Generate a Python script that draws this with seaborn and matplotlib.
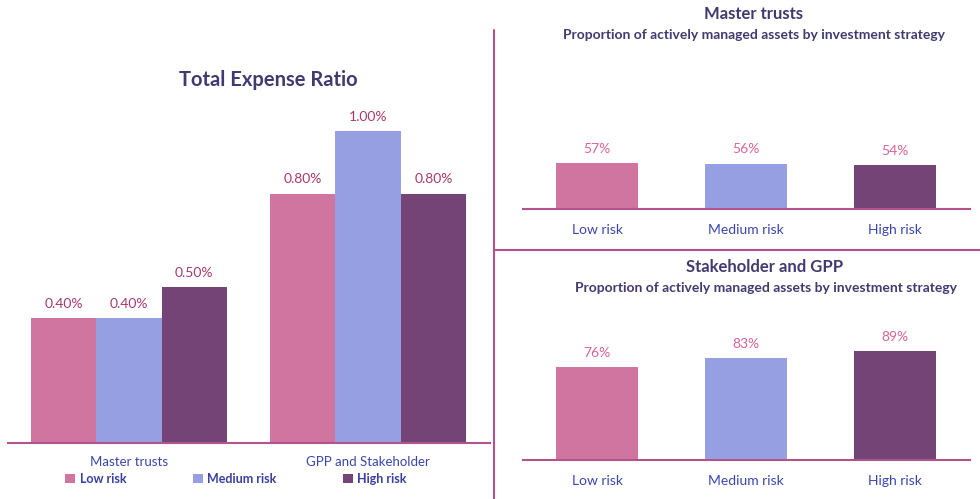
import matplotlib
matplotlib.use("Agg")
import matplotlib.pyplot as plt
from matplotlib.patches import Patch
from matplotlib.lines import Line2D
import seaborn as sns
import pandas as pd

sns.set_theme(style="white")
plt.rcParams['font.family'] = ['Lato', 'DejaVu Sans']

# ---- data ----
risk_levels = ["Low risk", "Medium risk", "High risk"]
ter_groups = ["Master trusts", "GPP and Stakeholder"]
ter_master = [0.40, 0.40, 0.50]
ter_gpp = [0.80, 1.00, 0.80]
active_master = [57, 56, 54]
active_stake = [76, 83, 89]

colors = ["#D075A0", "#979FE3", "#744477"]
title_col = "#3F3A70"
tick_col = "#3A45B0"
val_col_left = "#A8386F"
val_col_right = "#D9639A"
line_col = "#B0548A"

W, H = 980, 499
fig = plt.figure(figsize=(W / 100, H / 100), dpi=100)


def px_axes(x0, x1, ybase, ytop):
    return fig.add_axes([x0 / W, (H - ybase) / H, (x1 - x0) / W, (ybase - ytop) / H])


# ---- left grouped chart ----
df_ter = pd.DataFrame({
    "group": [g for g in ter_groups for _ in risk_levels],
    "risk": risk_levels * 2,
    "value": ter_master + ter_gpp,
})
ax = px_axes(8, 490, 443, 100)
sns.barplot(data=df_ter, x="group", y="value", hue="risk", order=ter_groups,
            hue_order=risk_levels, palette=colors, width=0.82, saturation=1,
            linewidth=0, ax=ax, legend=False)
ax.set_ylim(0, 1.1)
ax.set_xlim(-0.506, 1.51)
for cont in ax.containers:
    ax.bar_label(cont, labels=[f"{v:.2f}%" for v in cont.datavalues],
                 padding=6, color=val_col_left, fontsize=10)
ax.set_yticks([])
ax.set_xlabel("")
ax.set_ylabel("")
ax.tick_params(axis="x", length=0, colors=tick_col, labelsize=9.5, pad=9)
for s in ["top", "right", "left"]:
    ax.spines[s].set_visible(False)
ax.spines["bottom"].set_color(line_col)
ax.spines["bottom"].set_linewidth(1.5)
fig.text(268 / W, 1 - 80 / H, "Total Expense Ratio", ha="center", va="center",
         fontsize=14.5, fontweight="bold", color=title_col)

handles = [Patch(facecolor=c, edgecolor="none") for c in colors]
leg = fig.legend(handles, risk_levels, loc="center", bbox_to_anchor=(236 / W, 1 - 479 / H),
                 ncol=3, frameon=False, handlelength=0.8, handleheight=0.8,
                 handletextpad=0.35, columnspacing=5.3,
                 prop={"weight": "bold", "size": 9})
for t in leg.get_texts():
    t.set_color("#3A3FA0")


# ---- right charts ----
def small_chart(vals, ybase, scale, title, ytitle, xc):
    top = ybase - 100 * scale
    a = px_axes(523, 970, ybase, top)
    dfv = pd.DataFrame({"risk": risk_levels, "value": vals})
    sns.barplot(data=dfv, x="risk", y="value", hue="risk", order=risk_levels,
                hue_order=risk_levels, palette=colors, width=0.55, saturation=1,
                linewidth=0, ax=a, legend=False)
    a.set_ylim(0, 100)
    a.set_xlim(-0.497, 2.503)
    for cont in a.containers:
        a.bar_label(cont, labels=[f"{v:.0f}%" for v in cont.datavalues],
                    padding=6, color=val_col_right, fontsize=10)
    a.set_yticks([])
    a.set_xlabel("")
    a.set_ylabel("")
    a.tick_params(axis="x", length=0, colors=tick_col, labelsize=10, pad=11)
    for s in ["top", "right", "left"]:
        a.spines[s].set_visible(False)
    a.spines["bottom"].set_color(line_col)
    a.spines["bottom"].set_linewidth(1.5)
    fig.text(xc / W, 1 - ytitle / H, title, ha="center", va="center",
             fontsize=12, fontweight="bold", color=title_col)
    fig.text((xc + 1) / W, 1 - (ytitle + 21) / H,
             "Proportion of actively managed assets by investment strategy",
             ha="center", va="center", fontsize=10, fontweight="bold", color=title_col)


small_chart(active_master, 209, 0.807, "Master trusts", 14, 753)
small_chart(active_stake, 460, 1.224, "Stakeholder and GPP", 267, 765)

# ---- divider lines ----
fig.add_artist(Line2D([494 / W, 494 / W], [0, 1 - 30 / H], color=line_col, lw=1.5))
fig.add_artist(Line2D([494 / W, 1], [1 - 250 / H, 1 - 250 / H], color=line_col, lw=1.5))

fig.savefig("out.png", dpi=100)
